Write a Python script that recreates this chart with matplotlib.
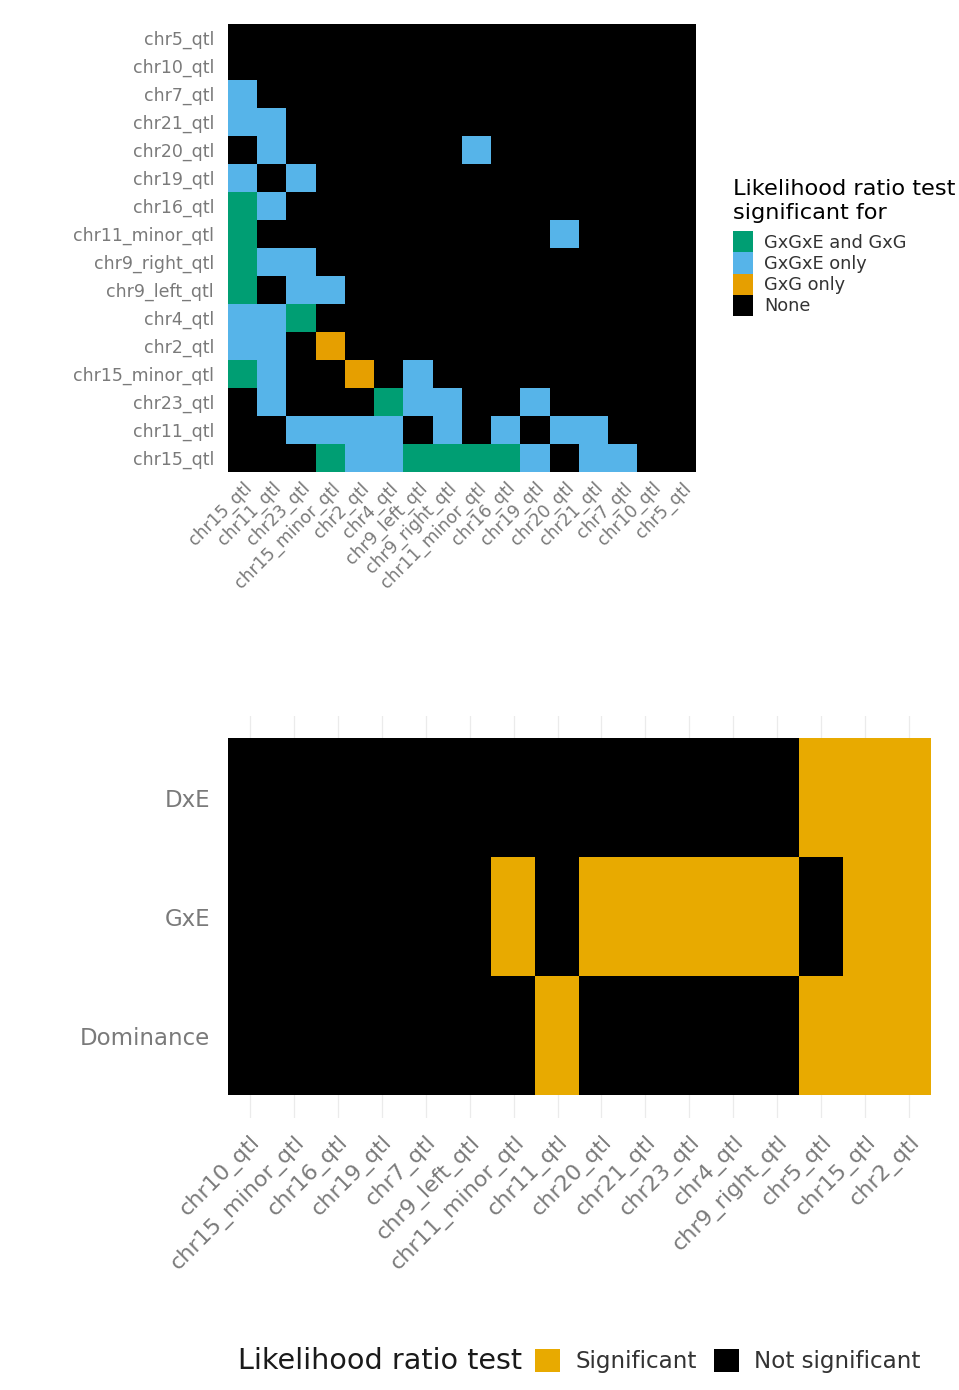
import numpy as np
import matplotlib
matplotlib.use('Agg')
import matplotlib.pyplot as plt
from matplotlib.colors import ListedColormap, BoundaryNorm
from matplotlib.patches import Patch

# ---- pairwise QTL interaction tests (symmetric matrix) ----
pair_qtls = ['chr15_qtl', 'chr11_qtl', 'chr23_qtl', 'chr15_minor_qtl', 'chr2_qtl',
             'chr4_qtl', 'chr9_left_qtl', 'chr9_right_qtl', 'chr11_minor_qtl',
             'chr16_qtl', 'chr19_qtl', 'chr20_qtl', 'chr21_qtl', 'chr7_qtl',
             'chr10_qtl', 'chr5_qtl']
# B = GxGxE and GxG, E = GxGxE only, G = GxG only, . = none
# one string per qtl (same order as pair_qtls), columns in the same order too
pair_results = ['...BEEBBBBE.EE..',
                '..EEEE.E.E.EE...',
                '.E...BEE..E.....',
                'BE..G.E.........',
                'EE.G............',
                'EEB.............',
                'B.EE............',
                'BEE.............',
                'B..........E....',
                'BE..............',
                'E.E.............',
                '.E......E.......',
                'EE..............',
                'E...............',
                '................',
                '................']
pair_classes = ['GxGxE and GxG', 'GxGxE only', 'GxG only', 'None']
pair_keys = 'BEG.'
pair_colors = ['#009E73', '#56B4E9', '#E69F00', '#000000']

# ---- single QTL tests ----
lrt_qtls = ['chr10_qtl', 'chr15_minor_qtl', 'chr16_qtl', 'chr19_qtl', 'chr7_qtl',
            'chr9_left_qtl', 'chr11_minor_qtl', 'chr11_qtl', 'chr20_qtl', 'chr21_qtl',
            'chr23_qtl', 'chr4_qtl', 'chr9_right_qtl', 'chr5_qtl', 'chr15_qtl', 'chr2_qtl']
lrt_terms = ['Dominance', 'GxE', 'DxE']
dominance_sig = [0, 0, 0, 0, 0, 0, 0, 1, 0, 0, 0, 0, 0, 1, 1, 1]
gxe_sig       = [0, 0, 0, 0, 0, 0, 1, 0, 1, 1, 1, 1, 1, 0, 1, 1]
dxe_sig       = [0, 0, 0, 0, 0, 0, 0, 0, 0, 0, 0, 0, 0, 1, 1, 1]
sig_colors = ['#000000', '#E8AA00']

W, H = 959, 1390
fig = plt.figure(figsize=(W / 100, H / 100), dpi=100)
plt.rcParams['font.family'] = 'DejaVu Sans'

def box(l, t, r, b):
    return [l / W, 1 - b / H, (r - l) / W, (b - t) / H]

tick_grey = '#7a7a7a'

# top: pairwise heatmap
mat = np.array([[pair_keys.index(c) for c in row] for row in pair_results])
cmap = ListedColormap(pair_colors)
norm = BoundaryNorm(np.arange(-0.5, 4.5, 1), cmap.N)
ax1 = fig.add_axes(box(228, 24, 696, 472))
ax1.imshow(mat, cmap=cmap, norm=norm, origin='lower', aspect='auto',
           interpolation='nearest')
ax1.set_xticks(range(len(pair_qtls)))
ax1.set_yticks(range(len(pair_qtls)))
ax1.set_xticklabels(pair_qtls, rotation=45, ha='right', va='top',
                    rotation_mode='anchor', fontsize=12.5, color=tick_grey)
ax1.set_yticklabels(pair_qtls, fontsize=12.5, color=tick_grey)
ax1.tick_params(length=0)
ax1.tick_params(axis='x', pad=5)
ax1.tick_params(axis='y', pad=10)
for s in ax1.spines.values():
    s.set_visible(False)

handles = [Patch(facecolor=c, edgecolor='none', label=l)
           for c, l in zip(pair_colors, pair_classes)]
leg1 = fig.legend(handles=handles, title='Likelihood ratio test\nsignificant for',
                  loc='upper left', bbox_to_anchor=(733 / W, 1 - 179 / H),
                  frameon=False, fontsize=12.8, title_fontsize=16.2,
                  handlelength=1.1, handleheight=1.45, labelspacing=0,
                  handletextpad=0.65, borderpad=0, borderaxespad=0)
leg1._legend_box.align = 'left'
leg1._legend_box.sep = 6
leg1.get_title().set_linespacing(1.25)
for t in leg1.get_texts():
    t.set_color('#333333')

# bottom: single-QTL likelihood ratio tests
sig = np.array([dominance_sig, gxe_sig, dxe_sig])
ax2 = fig.add_axes(box(228, 716, 931, 1118))
ax2.set_axisbelow(True)
ax2.grid(axis='x', color='#ebebeb', lw=0.9)
ax2.imshow(sig, cmap=ListedColormap(sig_colors), vmin=0, vmax=1, origin='lower',
           aspect='auto', interpolation='nearest', zorder=2)
ax2.set_xlim(-0.5, len(lrt_qtls) - 0.5)
ax2.set_ylim(-0.69, 2.69)
ax2.set_xticks(range(len(lrt_qtls)))
ax2.set_yticks(range(len(lrt_terms)))
ax2.set_xticklabels(lrt_qtls, rotation=45, ha='right', va='top',
                    rotation_mode='anchor', fontsize=16, color=tick_grey)
ax2.set_yticklabels(lrt_terms, fontsize=16.5, color=tick_grey)
ax2.tick_params(length=0)
ax2.tick_params(axis='x', pad=10)
ax2.tick_params(axis='y', pad=13)
for s in ax2.spines.values():
    s.set_visible(False)

fig.text(238 / W, 1 - 1361 / H, 'Likelihood ratio test', fontsize=20.6,
         ha='left', va='center', color='#1a1a1a')
sig_handles = [Patch(facecolor=sig_colors[1], edgecolor='none', label='Significant'),
               Patch(facecolor=sig_colors[0], edgecolor='none', label='Not significant')]
leg2 = fig.legend(handles=sig_handles, ncol=2, loc='center left',
                  bbox_to_anchor=(535 / W, 1 - 1361 / H), frameon=False,
                  fontsize=16.6, handlelength=1.1, handleheight=1.15,
                  handletextpad=0.65, columnspacing=0.75, borderpad=0,
                  borderaxespad=0)
for t in leg2.get_texts():
    t.set_color('#333333')

fig.savefig('out.png', dpi=100)
